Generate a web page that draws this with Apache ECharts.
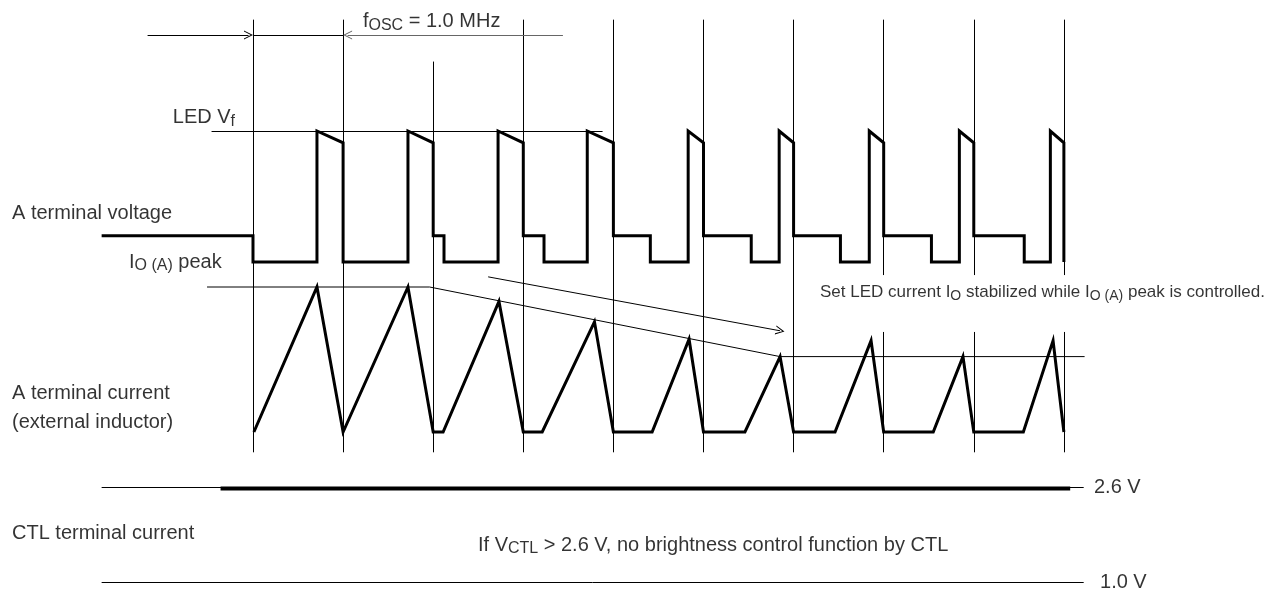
<!DOCTYPE html>
<html>
<head>
<meta charset="utf-8">
<script src="https://cdn.jsdelivr.net/npm/echarts@6/dist/echarts.min.js"></script>
<style>
html, body { margin: 0; padding: 0; background: #fff; }
#chart-container { width: 1283px; height: 593px; }
</style>
</head>
<body>
<div id="chart-container"></div>
<script>
// time axis in µs (fOSC = 1.0 MHz -> one cycle per µs)
const cycleEdges = [0, 1, 2, 3, 4, 5, 6, 7, 8, 9];
const edgeTops = [1.85, 1.85, 1.53, 1.85, 1.85, 1.85, 1.85, 1.85, 1.85, 1.85];
const edgeGaps = [0, 0, 0, 0, 0, 0, 0, 1, 1, 1];

// A terminal voltage, 0 = low, 1 = LED Vf
const voltStart = -1.68;
const voltMid = 0.2;
const voltSag = 0.91;
const voltPlateauEnd = [0, 1, 2.12, 3.23, 4.41, 5.53, 6.52, 7.53, 8.56];
const voltRise = [0.71, 1.72, 2.72, 3.71, 4.83, 5.84, 6.84, 7.84, 8.85];

// A terminal current, 1 = first IO(A) peak
const rampStart = [0.01, 1, 2.11, 3.21, 4.43, 5.46, 6.46, 7.55, 8.55];
const peakTime = [0.71, 1.72, 2.73, 3.79, 4.84, 5.85, 6.86, 7.88, 8.88];
const peakCurrent = [1, 1, 0.9, 0.76, 0.64, 0.52, 0.63, 0.52, 0.63];
const peakGuide = [[-0.51, 1], [1.96, 1], [5.85, 0.52], [9.23, 0.52]];

// CTL terminal, volts
const ctlLevels = [2.6, 1.0];
const ctlVoltage = 2.58;
const ctlSpan = [-0.36, 9.07];
const refSpan = [-1.68, 9.22];

// 文字标注
const labels = [
  { grid: 0, at: [1.22, 1.834], text: 'f{s|OSC} = 1.0 MHz' },
  { grid: 0, at: [-0.89, 1.104], text: 'LED V{s|f}' },
  { grid: 0, at: [-2.675, 0.374], text: 'A terminal voltage' },
  { grid: 0, at: [-1.376, 0.0], text: 'I{s|O (A)} peak' },
  { grid: 1, at: [-2.675, 0.269], text: 'A terminal current' },
  { grid: 1, at: [-2.675, 0.069], text: '(external inductor)' },
  { grid: 1, at: [6.293, 0.966], text: 'Set LED current I{s|O} stabilized while I{s|O (A)} peak is controlled.', small: true },
  { grid: 2, at: [9.334, 2.6], text: '2.6 V' },
  { grid: 2, at: [9.401, 1.0], text: '1.0 V' },
  { grid: 2, at: [-2.675, 1.83], text: 'CTL terminal current' },
  { grid: 2, at: [2.497, 1.628], text: 'If V{s|CTL} > 2.6 V, no brightness control function by CTL' }
];

// 电压波形
const voltData = [[voltStart, voltMid]];
for (let i = 0; i < voltRise.length; i++) {
  const t = cycleEdges[i];
  voltData.push([t, i === 0 ? voltMid : voltSag]);
  if (voltPlateauEnd[i] > t) {
    voltData.push([t, voltMid], [voltPlateauEnd[i], voltMid], [voltPlateauEnd[i], 0]);
  } else {
    voltData.push([t, 0]);
  }
  voltData.push([voltRise[i], 0], [voltRise[i], 1]);
}
voltData.push([cycleEdges[9], voltSag], [cycleEdges[9], 0]);

// 电流波形
const currData = [];
for (let i = 0; i < peakTime.length; i++) {
  const t = cycleEdges[i];
  if (i === 0 || rampStart[i] > t) currData.push([rampStart[i], 0]);
  currData.push([peakTime[i], peakCurrent[i]], [cycleEdges[i + 1], 0]);
}

const thin0 = cycleEdges.map((t, i) => ({ coords: [[t, edgeTops[i]], [t, -0.1]] }));
thin0.push({ coords: [[-0.46, 1], [3.88, 1]] });
thin0.push({ coords: [[0, 1.733], [1, 1.733]] });
// arrow ends sit half a head back, so the tips land on the edges
const arrows0 = [
  { coords: [[-1.17, 1.733], [-0.05, 1.733]] },
  { coords: [[3.44, 1.733], [1.05, 1.733]], lineStyle: { color: '#666' } }
];
const thin1 = cycleEdges.map((t, i) => ({ coords: [[t, edgeGaps[i] ? 0.69 : 1.09], [t, -0.14]] }));
const arrows1 = [{ coords: [[2.61, 1.07], [5.85, 0.698]] }];
const thin2 = ctlLevels.map(v => ({ coords: [[refSpan[0], v], [refSpan[1], v]] }));

const font = 'Liberation Sans, Arial, sans-serif';
// open arrow head (tip up, rotated by the lines series)
const chevron = 'path://M0,10 L5,0 L10,10 L8.8,10 L5,2.4 L1.2,10 Z';

const baseLabel = {
  show: true, position: 'right', distance: 0, color: '#000',
  fontFamily: font, fontSize: 20, lineHeight: 24,
  formatter: '{b}',
  rich: { s: { fontFamily: font, fontSize: 16, lineHeight: 16, verticalAlign: 'bottom', color: '#000' } }
};
const smallLabel = {
  fontSize: 17, lineHeight: 22,
  rich: { s: { fontFamily: font, fontSize: 14, lineHeight: 14, verticalAlign: 'bottom', color: '#000' } }
};

function labelSeries(g) {
  return {
    type: 'scatter', xAxisIndex: g, yAxisIndex: g, symbolSize: 0, silent: true,
    itemStyle: { color: 'transparent' }, label: baseLabel,
    data: labels.filter(d => d.grid === g).map(d => ({
      name: d.text, value: d.at, label: d.small ? smallLabel : undefined
    }))
  };
}

function thinLines(g, data, arrow) {
  return {
    type: 'lines', coordinateSystem: 'cartesian2d', xAxisIndex: g, yAxisIndex: g,
    silent: true, data: data,
    symbol: arrow ? ['none', chevron] : 'none', symbolSize: [9, 9],
    lineStyle: { color: '#000', width: 1, opacity: 1, curveness: 0 }
  };
}

function wave(g, data, width) {
  return {
    type: 'line', xAxisIndex: g, yAxisIndex: g, data: data, symbol: 'none', silent: true,
    lineStyle: { color: '#000', width: width, join: 'miter' }
  };
}

const chart = echarts.init(document.getElementById('chart-container'));
const xAxis = [0, 1, 2].map(g => ({ type: 'value', gridIndex: g, min: -2.808, max: 11.432, show: false }));
chart.setOption({
  animation: false,
  backgroundColor: '#fff',
  grid: [
    { left: 0, right: 0, top: 0, height: 275 },
    { left: 0, right: 0, top: 275, height: 185 },
    { left: 0, right: 0, top: 460, height: 133 }
  ],
  xAxis: xAxis,
  yAxis: [
    { type: 'value', gridIndex: 0, min: -0.0992, max: 2.0, show: false },
    { type: 'value', gridIndex: 1, min: -0.1931, max: 1.0828, show: false },
    { type: 'value', gridIndex: 2, min: 0.82, max: 3.06, show: false }
  ],
  series: [
    thinLines(0, thin0, false),
    thinLines(0, arrows0, true),
    thinLines(1, thin1, false),
    thinLines(1, arrows1, true),
    thinLines(2, thin2, false),
    wave(1, peakGuide, 1),
    wave(0, voltData, 3),
    wave(1, currData, 3),
    wave(2, [[ctlSpan[0], ctlVoltage], [ctlSpan[1], ctlVoltage]], 4),
    labelSeries(0),
    labelSeries(1),
    labelSeries(2)
  ]
});
</script>
</body>
</html>
